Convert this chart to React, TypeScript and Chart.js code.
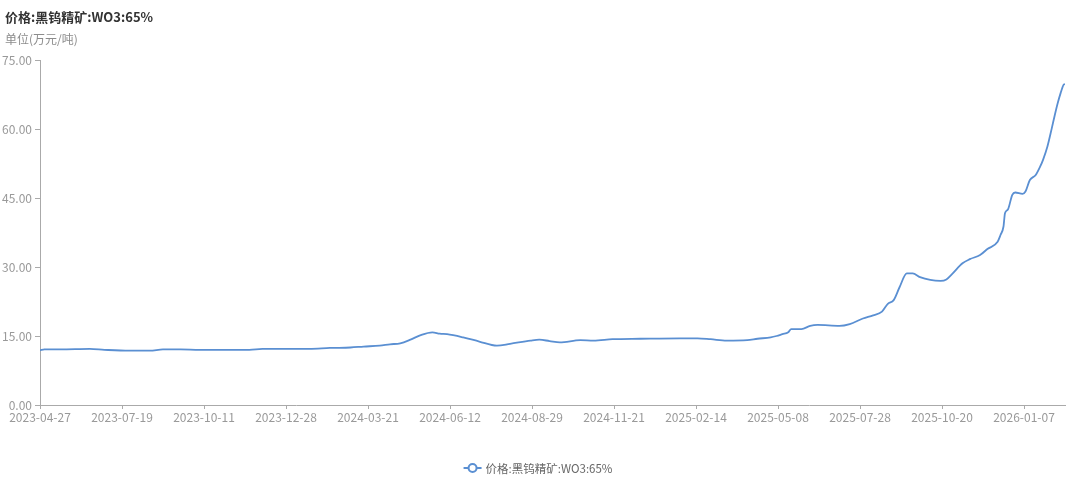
import React, { useEffect, useRef } from 'react';
import { Chart, registerables } from 'chart.js';

Chart.register(...registerables);

const TITLE = '价格:黑钨精矿:WO3:65%';
const UNIT_LABEL = '单位(万元/吨)';
const SERIES_NAME = '价格:黑钨精矿:WO3:65%';

const tickLabels = [
  '2023-04-27', '2023-07-19', '2023-10-11', '2023-12-28', '2024-03-21', '2024-06-12',
  '2024-08-29', '2024-11-21', '2025-02-14', '2025-05-08', '2025-07-28', '2025-10-20', '2026-01-07',
];
const DAYS_PER_LABEL = 56;
const LAST_DAY = 700;

const tradingDay = [
  0, 3, 14, 34, 44, 61, 75, 84, 96, 109, 130, 143, 152, 171, 184, 198, 212, 221, 232, 239,
  246, 253, 260, 268, 273, 278, 289, 300, 312, 321, 335, 341, 348, 355, 369, 378, 391, 410,
  437, 449, 458, 469, 483, 490, 499, 503, 507, 511, 513, 520, 526, 531, 546, 553, 562, 569,
  575, 579, 583, 587, 592, 596, 601, 608, 615, 619, 623, 630, 635, 642, 647, 654, 656, 658,
  659, 661, 664, 666, 671, 673, 676, 680, 683, 685, 688, 691, 693, 695, 697, 699, 700,
];
const price = [
  11.9, 12.1, 12.1, 12.2, 12.0, 11.8, 11.8, 12.1, 12.1, 12.0, 12.0, 12.0, 12.2, 12.2, 12.2, 12.4, 12.5, 12.7, 12.9, 13.2,
  13.4, 14.2, 15.2, 15.8, 15.5, 15.4, 14.7, 13.8, 12.9, 13.3, 14.0, 14.2, 13.9, 13.6, 14.1, 14.0, 14.3, 14.4,
  14.5, 14.5, 14.3, 14.0, 14.1, 14.4, 14.7, 15.0, 15.4, 15.8, 16.5, 16.5, 17.2, 17.4, 17.2, 17.6, 18.8, 19.5,
  20.3, 22.0, 22.8, 25.6, 28.6, 28.6, 27.8, 27.2, 27.0, 27.3, 28.5, 30.8, 31.7, 32.6, 33.9, 35.5, 37.0, 38.8,
  41.7, 42.5, 45.7, 46.2, 45.9, 46.4, 48.9, 50.0, 51.8, 53.3, 56.2, 60.2, 63.0, 65.6, 67.8, 69.6, 69.8,
];

const Y_MIN = 0;
const Y_MAX = 75;
const Y_STEP = 15;

const LINE_COLOR = '#5a8fd2';
const FONT = '"Noto Sans CJK SC", "Noto Sans", sans-serif';

const decorPlugin = {
  id: 'decor',
  afterDraw(chart: any) {
    const ctx = chart.ctx as CanvasRenderingContext2D;
    ctx.save();
    ctx.textAlign = 'left';
    ctx.textBaseline = 'middle';
    ctx.fillStyle = '#333';
    ctx.font = `bold 13px ${FONT}`;
    ctx.fillText(TITLE, 5, 17);
    ctx.fillStyle = '#8c8c8c';
    ctx.font = `12px ${FONT}`;
    ctx.fillText(UNIT_LABEL, 5, 39);

    // legend
    const ds = chart.data.datasets[0];
    ctx.font = `11.5px ${FONT}`;
    const textW = ctx.measureText(ds.label).width;
    const markerW = 18;
    const gap = 4;
    const total = markerW + gap + textW;
    const x0 = chart.width / 2 - total / 2 - 2;
    const y = 468;
    ctx.strokeStyle = ds.borderColor;
    ctx.lineWidth = 2;
    ctx.beginPath();
    ctx.moveTo(x0, y);
    ctx.lineTo(x0 + markerW, y);
    ctx.stroke();
    ctx.beginPath();
    ctx.arc(x0 + markerW / 2, y, 4, 0, Math.PI * 2);
    ctx.fillStyle = '#fff';
    ctx.fill();
    ctx.stroke();
    ctx.fillStyle = '#666';
    ctx.fillText(ds.label, x0 + markerW + gap, y + 1);
    ctx.restore();
  },
};

export default function App() {
  const canvasRef = useRef<HTMLCanvasElement | null>(null);

  useEffect(() => {
    if (!canvasRef.current) return;
    const chart = new Chart(canvasRef.current, {
      type: 'line',
      data: {
        datasets: [
          {
            label: SERIES_NAME,
            data: tradingDay.map((d, i) => ({ x: d, y: price[i] })),
            borderColor: LINE_COLOR,
            backgroundColor: LINE_COLOR,
            borderWidth: 1.8,
            pointRadius: 0,
            pointHoverRadius: 0,
            cubicInterpolationMode: 'monotone',
            fill: false,
          },
        ],
      },
      options: {
        animation: false,
        responsive: true,
        maintainAspectRatio: false,
        layout: { padding: { top: 60, left: 0, right: 15, bottom: 50 } },
        plugins: {
          legend: { display: false },
          tooltip: { enabled: false },
          title: { display: false },
        },
        scales: {
          x: {
            type: 'linear',
            min: 0,
            max: LAST_DAY,
            afterBuildTicks: (scale: any) => {
              scale.ticks = tickLabels.map((_, i) => ({ value: i * DAYS_PER_LABEL }));
            },
            afterFit: (scale: any) => {
              scale.height = 25;
            },
            ticks: {
              autoSkip: false,
              maxRotation: 0,
              minRotation: 0,
              padding: 1,
              color: '#999',
              font: { family: FONT, size: 12 },
              callback: (v: any) => tickLabels[Math.round(Number(v) / DAYS_PER_LABEL)] ?? '',
            },
            grid: {
              display: true,
              drawOnChartArea: false,
              drawTicks: true,
              tickLength: 4,
              color: '#aaa',
            },
            border: { display: true, color: '#aaa', width: 1 },
          },
          y: {
            type: 'linear',
            min: Y_MIN,
            max: Y_MAX,
            afterFit: (scale: any) => {
              scale.width = 40;
            },
            ticks: {
              stepSize: Y_STEP,
              padding: 3,
              color: '#999',
              font: { family: FONT, size: 12 },
              callback: (v: any) => Number(v).toFixed(2),
            },
            grid: {
              display: true,
              drawOnChartArea: false,
              drawTicks: true,
              tickLength: 5,
              color: '#aaa',
            },
            border: { display: true, color: '#aaa', width: 1 },
          },
        },
      },
      plugins: [decorPlugin],
    } as any);
    return () => chart.destroy();
  }, []);

  return (
    <div style={{ position: 'absolute', left: 0, top: 0, width: 1080, height: 480, background: '#fff' }}>
      <canvas ref={canvasRef} />
    </div>
  );
}
